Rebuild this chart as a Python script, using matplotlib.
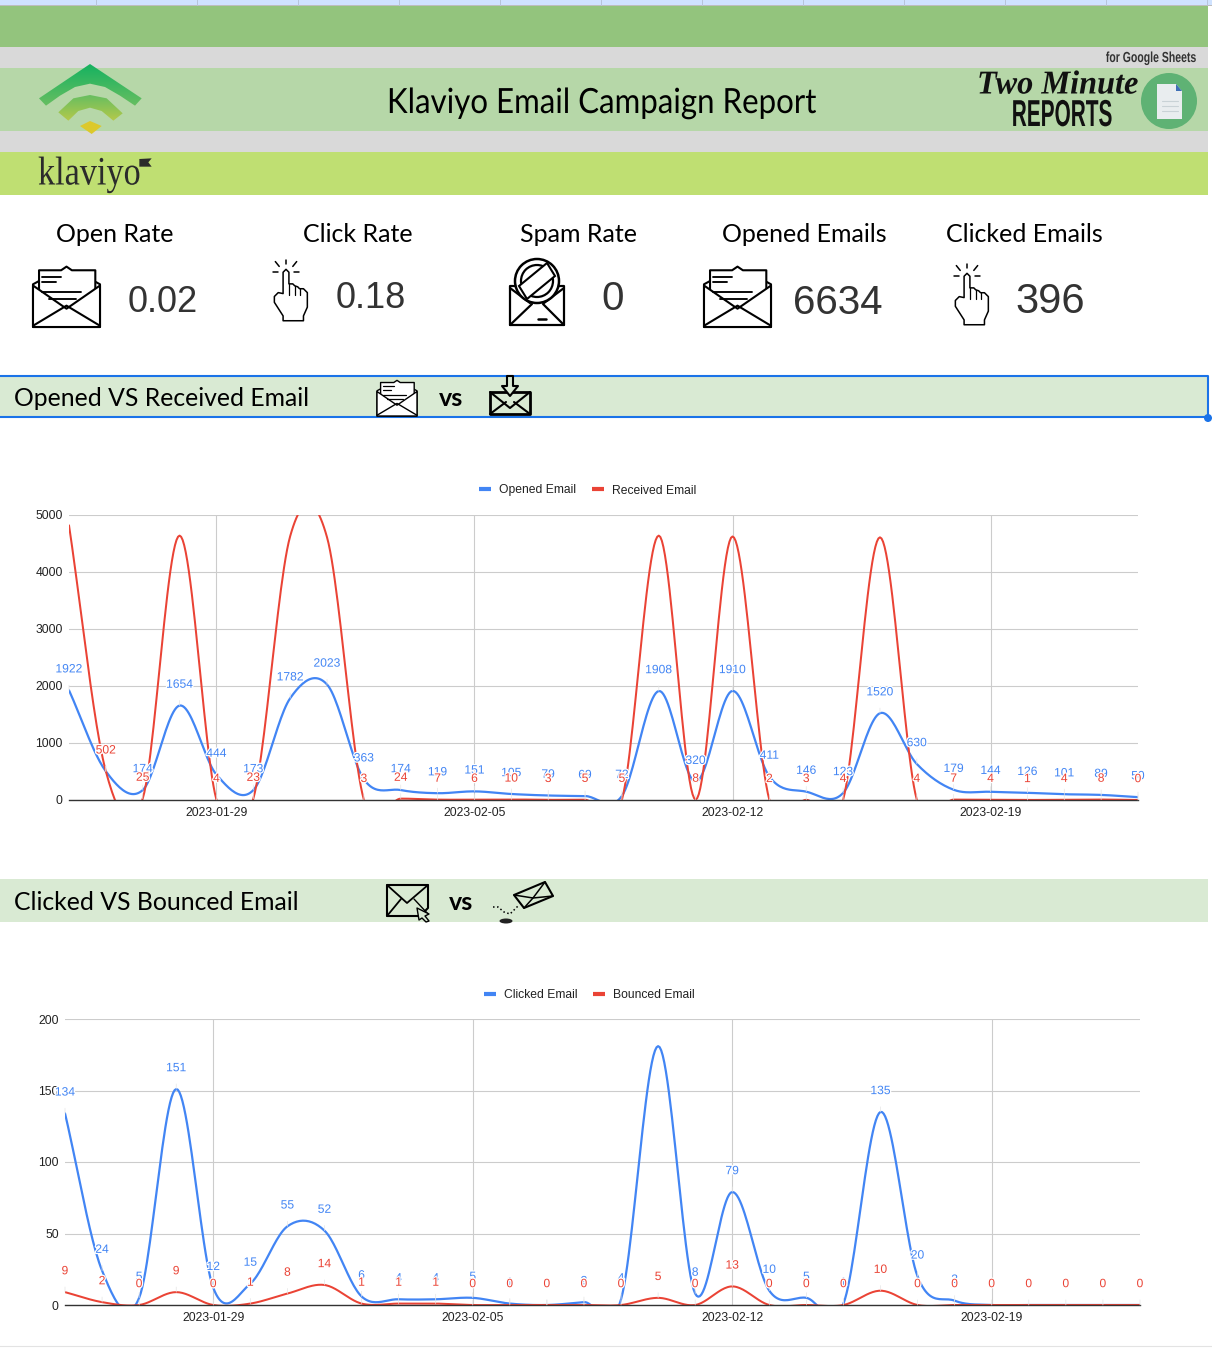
import numpy as np
import pandas as pd
import matplotlib
matplotlib.use("Agg")
import matplotlib.pyplot as plt
import matplotlib.dates as mdates
import matplotlib.patheffects as pe
from matplotlib.colors import LinearSegmentedColormap
from matplotlib.lines import Line2D
from matplotlib.patches import Circle, Ellipse, Polygon, Rectangle
from matplotlib.transforms import Affine2D

W, H = 1212, 1354
BLUE = "#4285F4"
RED = "#EA4335"
HAND_FONT = ["Lato", "DejaVu Sans"]

plt.rcParams["font.family"] = ["Liberation Sans", "DejaVu Sans"]

dates = pd.date_range("2023-01-25", periods=30)
week_ticks = pd.to_datetime(["2023-01-29", "2023-02-05", "2023-02-12", "2023-02-19"])

opened = [1922, 502, 174, 1654, 444, 173, 1782, 2023, 363, 174, 119, 151, 105, 79, 69,
          72, 1908, 320, 1910, 411, 146, 123, 1520, 630, 179, 144, 126, 101, 89, 50]
received = [4810, 502, 25, 4630, 4, 23, 4620, 4600, 3, 24, 7, 6, 10, 3, 5,
            5, 4630, 8, 4615, 2, 3, 4, 4600, 4, 7, 4, 1, 4, 8, 0]
clicked = [134, 24, 5, 151, 12, 15, 55, 52, 6, 4, 4, 5, 1, 0, 2,
           4, 181, 8, 79, 10, 5, 1, 135, 20, 3, 0, 0, 0, 0, 0]
bounced = [9, 2, 0, 9, 0, 1, 8, 14, 1, 1, 1, 0, 0, 0, 0,
           0, 5, 0, 13, 0, 0, 0, 10, 0, 0, 0, 0, 0, 0, 0]

kpi_titles = ["Open Rate", "Click Rate", "Spam Rate", "Opened Emails", "Clicked Emails"]
kpi_values = ["0.02", "0.18", "0", "6634", "396"]


class Squeeze(pe.AbstractPathEffect):
    # no condensed fonts here, so narrow the glyphs around x0 (pixels)
    def __init__(self, sx, x0):
        super().__init__()
        self.sx = sx
        self.x0 = x0

    def draw_path(self, renderer, gc, tpath, affine, rgbFace=None):
        narrow = affine + Affine2D().translate(-self.x0, 0).scale(self.sx, 1).translate(self.x0, 0)
        renderer.draw_path(gc, tpath, narrow, rgbFace)


def smooth(y, per_day=24):
    # catmull-rom through the daily values, same look as the sheets "smooth" line
    y = np.asarray(y, dtype=float)
    m = np.gradient(y)
    t = np.linspace(0, len(y) - 1, (len(y) - 1) * per_day + 1)
    i = np.minimum(t.astype(int), len(y) - 2)
    u = t - i
    s = ((2 * u ** 3 - 3 * u ** 2 + 1) * y[i] + (u ** 3 - 2 * u ** 2 + u) * m[i]
         + (-2 * u ** 3 + 3 * u ** 2) * y[i + 1] + (u ** 3 - u ** 2) * m[i + 1])
    return t, s


fig = plt.figure(figsize=(W / 100, H / 100), dpi=100, facecolor="white")
bg = fig.add_axes([0, 0, 1, 1], zorder=0)
bg.set_xlim(0, W)
bg.set_ylim(H, 0)
bg.axis("off")


def band(y0, y1, color, x1=1208):
    bg.add_patch(Rectangle((0, y0), x1, y1 - y0, fc=color, ec="none"))


def poly(pts, ox=0, oy=0, k=1.0, closed=True, fc="white", ec="black", lw=1.3, z=3):
    pts = [(ox + a * k, oy + b * k) for a, b in pts]
    bg.add_patch(Polygon(pts, closed=closed, fc=fc, ec=ec, lw=lw, joinstyle="round", zorder=z))


def seg(x, y, ox=0, oy=0, k=1.0, c="black", lw=1.3, z=4, **kw):
    bg.plot([ox + a * k for a in x], [oy + b * k for b in y], color=c, lw=lw,
            solid_capstyle="round", zorder=z, **kw)


def gradient_poly(pts, top, bottom):
    pts = np.asarray(pts, dtype=float)
    cmap = LinearSegmentedColormap.from_list("g", [top, bottom])
    extent = (pts[:, 0].min(), pts[:, 0].max(), pts[:, 1].max(), pts[:, 1].min())
    im = bg.imshow(np.linspace(0, 1, 64).reshape(-1, 1), cmap=cmap, extent=extent,
                   aspect="auto", zorder=3, origin="upper")
    patch = Polygon(pts, closed=True, transform=bg.transData, fc="none", ec="none", joinstyle="round")
    bg.add_patch(patch)
    im.set_clip_path(patch)
    bg.set_xlim(0, W)
    bg.set_ylim(H, 0)


def open_mail(x, y, w, h, lw=1.5):
    fx = lambda u: x + u * w
    fy = lambda v: y + v * h
    p = lambda pts: [(fx(a), fy(b)) for a, b in pts]
    poly(p([(0, .30), (.10, .24), (.90, .24), (1, .30), (1, 1), (0, 1)]), lw=lw)
    poly(p([(.09, .07), (.42, .07), (.50, .01), (.58, .07), (.93, .07), (.93, .52), (.50, .72), (.09, .52)]), lw=lw, z=4)
    poly(p([(0, .32), (.50, .70), (1, .32), (1, 1), (0, 1)]), lw=lw, z=5)
    poly(p([(0, .98), (.50, .65), (1, .98)]), closed=False, fc="none", lw=lw, z=6)
    for a, b, v in [(.14, .42, .18), (.14, .34, .27), (.14, .72, .43), (.24, .64, .54)]:
        seg([fx(a), fx(b)], [fy(v), fy(v)], lw=lw * .9, z=7)


def hand(ox, oy, k=1.0):
    # drawn in pixels relative to the top of the pointing finger
    outline = [(-3, 3), (-3, -8), (0, -11), (3, -8), (3, 4), (7, 4), (9, 6), (12, 7), (14, 9), (18, 9),
               (22, 13), (22, 28), (18, 37), (18, 42), (-3, 42), (-3, 37), (-12, 23), (-12, 17), (-8, 13), (-3, 14)]
    poly(outline, ox, oy, k, lw=1.1)
    for a, v0, v1 in [(3, 4, 15), (9, 6, 15), (14, 9, 15)]:
        seg([a, a], [v0, v1], ox, oy, k, lw=.9)
    for xs, ys in [([0, 0], [-21, -16]), ([-11, -7], [-19, -14]), ([11, 7], [-19, -14]),
                   ([-13, -8], [-8, -8]), ([8, 13], [-8, -8])]:
        seg(xs, ys, ox, oy, k, lw=1.1)


def spam_mail(ox, oy):
    poly([(0, 35), (0, 74), (54, 74), (54, 35)], ox, oy, lw=1.6)
    seg([0, 22], [74, 53], ox, oy, lw=1.6)
    seg([54, 33], [74, 53], ox, oy, lw=1.6)
    seg([0, 20], [37, 52], ox, oy, lw=1.6)
    seg([54, 34], [37, 52], ox, oy, lw=1.6)
    bg.add_patch(Circle((ox + 27, oy + 30), 22, fc="white", ec="black", lw=1.8, zorder=6))
    bg.add_patch(Circle((ox + 27, oy + 30), 16, fc="white", ec="black", lw=1.6, zorder=7))
    bg.add_patch(Polygon([(ox + 9, oy + 35), (ox + 37, oy + 12), (ox + 45, oy + 25), (ox + 17, oy + 48)],
                         fc="white", ec="black", lw=1.5, zorder=8))
    seg([28, 36], [68, 68], ox, oy, lw=1.8)


# sheet bands
band(0, 5, "#CFE2FF", W)
for col in range(12):
    bg.plot([96 + col * 101] * 2, [0, 5], color="#B7C4D9", lw=.7)
band(5, 6, "#BDBDBD", W)
band(6, 47, "#93C47D")
band(47, 68, "#D9D9D9")
band(68, 131, "#B6D7A8")
band(131, 152, "#D9D9D9")
band(152, 195, "#BFDF72")
band(376, 417, "#D9EAD3")
band(879, 922, "#D9EAD3")
bg.plot([0, 1208, 1208, 0], [376, 376, 417, 417], color="#1A73E8", lw=1.5, zorder=2)
bg.add_patch(Circle((1208, 418), 4, fc="#1A73E8", ec="none", zorder=3))
bg.plot([0, W], [1346, 1346], color="#E3E3E3", lw=.8)

# klaviyo wifi logo
z = lambda pts: [(20 + a / 3, 55 + b / 3) for a, b in pts]
gradient_poly(z([(210, 27), (365, 130), (345, 152), (300, 122), (255, 96), (210, 86), (165, 96), (120, 122), (78, 152), (57, 130)]),
              "#16B261", "#67BE60")
gradient_poly(z([(210, 120), (260, 130), (308, 175), (280, 197), (245, 168), (210, 158), (175, 168), (145, 197),
                 (115, 172), (160, 130)]), "#67BE60", "#B5C94A")
gradient_poly(z([(210, 198), (245, 213), (215, 237), (180, 213)]), "#DCC92C", "#DCC92C")
bg.text(38, 175, "klaviyo", family=["Liberation Serif"], fontsize=29, color="#2B2B2B", va="center", ha="left",
        path_effects=[Squeeze(.85, 38)])
poly(z([(358, 312), (395, 310), (385, 322), (395, 335), (358, 335)]), fc="#2B2B2B", ec="none", lw=0)

bg.text(602, 103, "Klaviyo Email Campaign Report", family=HAND_FONT, fontsize=25, ha="center", va="center", color="black",
        path_effects=[Squeeze(.9, 602)])

# two minute reports logo
bg.text(1197, 58, "for Google Sheets", fontsize=10.5, fontweight="bold", ha="right", va="center", color="#333333",
        path_effects=[Squeeze(.72, 1197)])
bg.text(977, 85, "Two Minute", family=["Liberation Serif"], fontsize=24, style="italic", fontweight="bold", ha="left", va="center",
        color="#111111", path_effects=[Squeeze(.97, 977)])
bg.text(1062, 116, "REPORTS", fontsize=27, fontweight="bold", ha="center", va="center", color="#111111",
        path_effects=[Squeeze(.555, 1062)])
bg.add_patch(Circle((1169, 101), 28, fc="#5FB274", ec="none", zorder=3))
poly([(1157, 84), (1176, 84), (1182, 91), (1182, 119), (1157, 119)], fc="#E9EDEF", ec="none", lw=0, z=4)
poly([(1176, 84), (1182, 91), (1176, 91)], fc="#3F6FB5", ec="none", lw=0, z=5)
for v in [101, 106, 111]:
    seg([1162, 1178], [v, v], c="#C9D2D6", lw=.8, z=5)

# kpi row
kpi_title_x = [115, 358, 578, 804, 1024]
kpi_value_x = [163, 371, 613, 838, 1050]
kpi_value_y = [303, 299, 299, 303, 302]
kpi_size = [26, 26, 29, 29, 30]
for i in range(5):
    bg.text(kpi_title_x[i], 235, kpi_titles[i], family=HAND_FONT, fontsize=18, ha="center", va="center", color="black")
    bg.text(kpi_value_x[i], kpi_value_y[i], kpi_values[i], fontsize=kpi_size[i], ha="center", va="center", color="#333333")
open_mail(33, 266, 67, 61)
open_mail(704, 266, 67, 61)
hand(286, 280, .97)
hand(967, 284, .97)
spam_mail(510, 251)

# section headers
bg.text(14, 399, "Opened VS Received Email", family=HAND_FONT, fontsize=17.8, ha="left", va="center", color="black")
bg.text(451, 399, "vs", family=HAND_FONT, fontsize=18, fontweight="bold", ha="center", va="center", color="black")
open_mail(377, 380, 40, 36, lw=1)
poly([(490, 392), (530, 392), (530, 414), (490, 414)], fc="none", lw=2, z=3)
seg([490, 506], [414, 402], lw=1.5)
seg([530, 514], [414, 402], lw=1.5)
seg([490, 510, 530], [392, 408, 392], lw=1.5)
poly([(507, 376), (513, 376), (513, 386), (518, 386), (510, 396), (502, 386), (507, 386)], fc="#D9EAD3", lw=1.5, z=5)

bg.text(14, 903, "Clicked VS Bounced Email", family=HAND_FONT, fontsize=17.8, ha="left", va="center", color="black")
bg.text(461, 903, "vs", family=HAND_FONT, fontsize=18, fontweight="bold", ha="center", va="center", color="black")
poly([(387, 885), (428, 885), (428, 908), (420, 916), (387, 916)], fc="none", lw=1.5)
seg([387, 407, 428], [885, 903, 885], lw=1.3)
seg([387, 401], [916, 899], lw=1.3)
seg([428, 414], [914, 899], lw=1)
poly([(417, 908), (429, 914), (425, 916), (429, 921), (426, 922), (422, 918), (419, 920)], fc="#D9EAD3", lw=1, z=5)
poly([(514, 895), (545, 882), (553, 896), (524, 908)], fc="#D9EAD3", lw=1.5)
seg([514, 533, 553], [895, 898, 896], lw=1.1)
seg([524, 533, 545], [908, 898, 882], lw=1.1)
seg([493, 498, 504, 510, 518], [907, 907, 912, 914, 906], lw=1.1, ls=":")
bg.add_patch(Ellipse((506, 921), 13, 5, fc="#222222", ec="none", zorder=4))


def chart(left, right, top, bottom, ymax, ystep, s1, s2, name1, name2, legend_x, hide1, hide2):
    ax = fig.add_axes([left / W, 1 - bottom / H, (right - left) / W, (bottom - top) / H], zorder=2)
    ax.patch.set_alpha(0)
    x = mdates.date2num(dates)
    ax.set_xlim(x[0], x[-1])
    ax.set_ylim(0, ymax)
    for sp in ["top", "left", "right"]:
        ax.spines[sp].set_visible(False)
    ax.spines["bottom"].set_color("#333333")
    ax.spines["bottom"].set_linewidth(1)
    ax.spines["bottom"].set_zorder(6)
    ax.set_yticks(np.arange(0, ymax + 1, ystep))
    ax.set_xticks(mdates.date2num(week_ticks))
    ax.xaxis.set_major_formatter(mdates.DateFormatter("%Y-%m-%d"))
    ax.tick_params(length=0, labelsize=8.7, labelcolor="#222222")
    ax.tick_params(axis="x", pad=5)
    ax.tick_params(axis="y", pad=4.5)
    ax.grid(True, color="#CCCCCC", lw=0.8)
    ax.set_axisbelow(True)

    for vals, col, lw, hide, zo in [(s1, BLUE, 1.6, hide1, 3), (s2, RED, 1.45, hide2, 4)]:
        t, s = smooth(vals)
        ax.plot(x[0] + t, s, color=col, lw=lw, zorder=zo, solid_capstyle="round")
        for i, v in enumerate(vals):
            if i in hide:
                continue
            ax.annotate(str(v), xy=(x[i], v), xytext=(0, 15), textcoords="offset points",
                        ha="center", va="center", fontsize=8.7, color=col, annotation_clip=False, zorder=zo + 3,
                        path_effects=[pe.withStroke(linewidth=1.8, foreground="white")],
                        arrowprops=dict(arrowstyle="-", color="#E4E4E4", lw=0.5, shrinkA=5, shrinkB=0))

    handles = [Line2D([], [], color=BLUE, lw=3, solid_capstyle="butt"), Line2D([], [], color=RED, lw=3, solid_capstyle="butt")]
    ax.legend(handles, [name1, name2], ncol=2, frameon=False, fontsize=8.7, loc="center",
              bbox_to_anchor=(legend_x, 1 + 24 / (bottom - top)), handlelength=1.0, handletextpad=0.66,
              columnspacing=1.3, borderpad=0, labelcolor="#222222")
    return ax


chart(69, 1138, 514.5, 800, 5000, 1000, opened, received, "Opened Email", "Received Email", 0.485,
      hide1=[], hide2=[0, 3, 6, 7, 16, 18, 22])
chart(65, 1140, 1019, 1305, 200, 50, clicked, bounced, "Clicked Email", "Bounced Email", 0.488,
      hide1=[16, 25, 26, 27, 28, 29], hide2=[])

fig.savefig("out.png", dpi=100, facecolor="white")
